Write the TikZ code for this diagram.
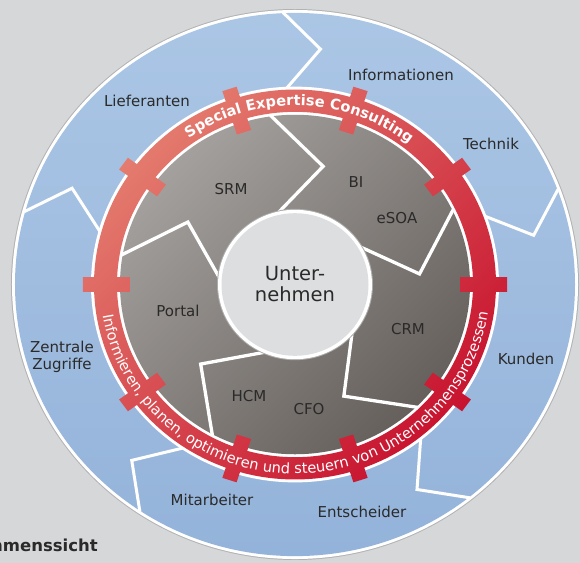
\documentclass[tikz,border=0pt]{standalone}
\usepackage{fontspec}
\setmainfont{DejaVu Sans}
\usetikzlibrary{calc,decorations.text}

\definecolor{paper}{HTML}{D6D7D9}
\definecolor{blueLight}{HTML}{ABC6E5}
\definecolor{blueDark}{HTML}{94B3DA}
\definecolor{stoneLight}{HTML}{A4A09D}
\definecolor{stoneDark}{HTML}{65605C}
\definecolor{redLight}{HTML}{E47B6E}
\definecolor{redDark}{HTML}{C8132F}
\definecolor{coreGray}{HTML}{DDDEDF}
\definecolor{ink}{HTML}{2A2A2A}

\begin{document}
\begin{tikzpicture}[x=1pt, y=0.97pt,
		tag/.style={text=ink, inner sep=0pt, font=\fontsize{15}{17}\selectfont},
		divider/.style={draw=white, line width=3pt, line join=miter}]
	\useasboundingbox (-295,-287.1) rectangle (285,293.3);
	\clip (-295,-287.1) rectangle (285,293.3);
	\fill[paper] (-295,-287.1) rectangle (285,293.3);
	% Rings
	%% Outer ring
	\fill[gray!60] (0,0) circle (284);
	\fill[white] (0,0) circle (283);
	\shade[top color=blueLight, bottom color=blueDark] (0,0) circle (280);
	\foreach \a in {164.5,92.5,20.5,-51.5,-123.5}
		\draw[divider] (\a:281) -- ({\a-8.5}:244) -- (\a:202);
	\fill[white] (0,0) circle (204);
	%% Middle ring
	\shade[top color=stoneLight, bottom color=stoneDark, shading angle=45] (0,0) circle (175);
	\foreach \t in {149,77,5,-67,-139}
		\draw[divider, line width=3.3pt] ({\t+21}:176) -- (\t:125) -- ({\t+28}:74);
	%% Core
	\fill[gray!65] (0,0) circle (78);
	\fill[white] (0,0) circle (77);
	\fill[coreGray] (0,0) circle (73.5);
	%% Red ring with tabs
	\shade[top color=redLight, middle color=redDark!80!redLight, bottom color=redDark, shading angle=45]
		(201,0) arc (0:360:201) -- cycle
		(178,0) arc (0:-360:178) -- cycle
		\foreach \th in {0,36,...,324} {
			($(\th:165)+({\th-90}:7.5)$) -- ($(\th:212)+({\th-90}:7.5)$)
			-- ($(\th:212)+({\th+90}:7.5)$) -- ($(\th:165)+({\th+90}:7.5)$) -- cycle };
	%% Ring texts
	\path[decorate, decoration={text along path, text align=center, text color=white,
		text={|\bfseries\fontsize{14.6}{15}\selectfont|Special Expertise Consulting}}]
		(142:184.5) arc (142:35:184.5);
	\path[decorate, decoration={text along path, text align=center, text color=white,
		text={|\fontsize{14.6}{15}\selectfont|Informieren, planen, optimieren und steuern von Unternehmensprozessen}}]
		(176:195) arc (176:365:195);
	% Labels
	%% Outer ring
	\node[tag] (lief) at (-148,189) {Lieferanten};
	\node[tag] (info) at (106,216) {Informationen};
	\node[tag] (tech) at (196,145) {Technik};
	\node[tag] (kund) at (231,-77) {Kunden};
	\node[tag] (ents) at (67,-234.5) {Entscheider};
	\node[tag] (mita) at (-83,-222) {Mitarbeiter};
	\node[tag, align=center] (zent) at (-233,-75) {Zentrale\\Zugriffe};
	%% Middle ring
	\node[tag] (srm) at (-64,98.5) {SRM};
	\node[tag] (bi) at (61,105.7) {BI};
	\node[tag] (esoa) at (102,68.6) {eSOA};
	\node[tag] (crm) at (113,-46) {CRM};
	\node[tag] (cfo) at (14,-128.4) {CFO};
	\node[tag] (hcm) at (-46,-115) {HCM};
	\node[tag] (port) at (-117,-27.3) {Portal};
	%% Core and corner
	\node[tag, align=center, font=\fontsize{19.5}{21}\selectfont] (unt) at (0,0.5) {Unter-\\nehmen};
	\node[tag, anchor=east, font=\bfseries\fontsize{16.5}{18}\selectfont] (sicht) at (-197,-268.6) {Unternehmenssicht};
\end{tikzpicture}
\end{document}
